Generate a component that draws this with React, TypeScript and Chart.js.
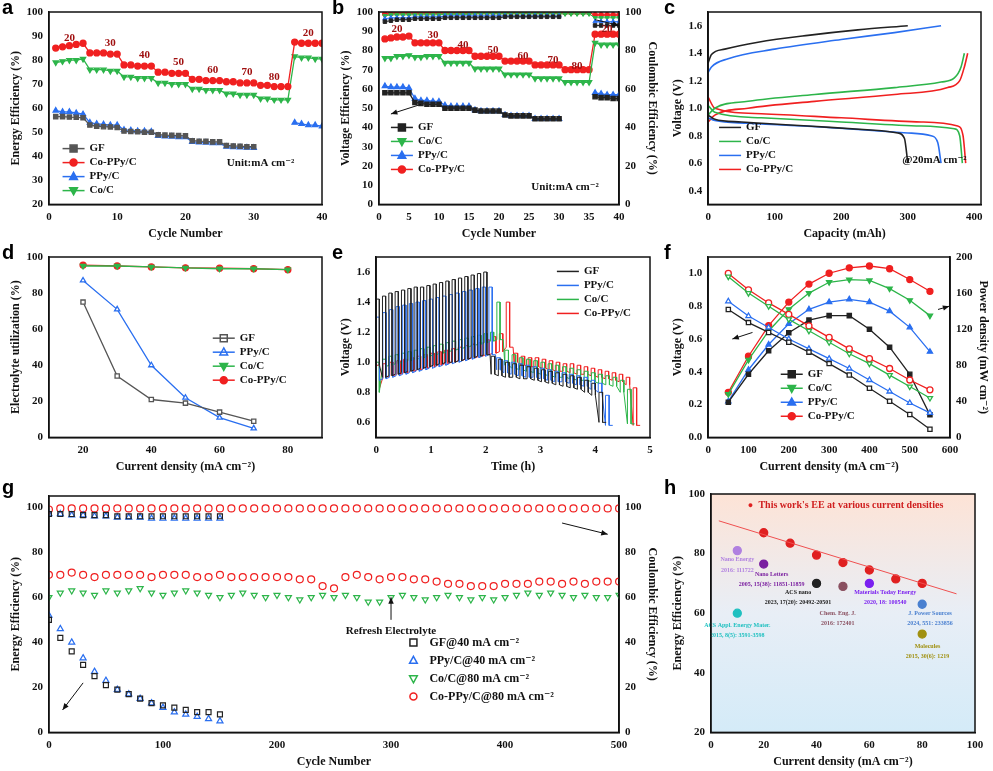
import React, { useEffect, useRef } from "react";
import Chart from "chart.js/auto";

const SERIF = "'Liberation Serif', 'DejaVu Serif', serif";
const BLACK = "#222", RED = "#f02020", GREEN = "#2db54a", BLUE = "#2a6ff0", GRAY = "#555";

// ---------- panel a ----------
const cyc40 = Array.from({ length: 40 }, (_, i) => i + 1);
const N5 = [null, null, null, null, null];
const aGF = [56.5,56.5,56.3,56.2,56,53,52.5,52.3,52.2,52,50.5,50.3,50.2,50,50,49,48.8,48.7,48.6,48.5,46.5,46.3,46.2,46,46,44.5,44.3,44.2,44,44,...N5,...N5];
const aPPy = [59,58.5,58.5,58,57.5,54,53.5,53.3,53,53,51,50.8,50.5,50.5,50.3,48.5,48.3,48.2,48,48,46,45.8,45.7,45.5,45.5,44,43.8,43.7,43.6,43.5,...N5,54,53.5,53,53,52.5];
const aCPC = [85,85.5,86,86.5,87,83,83,83,82.5,82.5,78,78,77.5,77.5,77.5,75,75,74.5,74.5,74.5,72,72,71.5,71.5,71.5,71,71,70.5,70.5,70.5,69.5,69.5,69,69,69,87.5,87,87,87,87];
const aCoC = [79,79.5,80,80,80.5,76,76,76,75.5,75.5,73,73,72.5,72.5,72.5,70.5,70.5,70,70,70,68,68,67.5,67.5,67.5,66,66,65.5,65.5,65.5,64,64,63.5,63.5,63.5,81.5,81,81,80.5,80.5];
const rateLabels = ["20","30","40","50","60","70","80","20"];
const aLabelX = [3,9,14,19,24,29,33,38];
const aLabelY = [89,87,82,79,76,75,73,91];

// ---------- panel b ----------
const bGF = [58,58,58,58,58,53,52.5,52,52,52,50,50,50,50,50,49,48.5,48.5,48.5,48.5,46.5,46,46,46,46,44.5,44.5,44.5,44.5,44.5,...N5,56,55.5,55.5,55,55];
const bPPy = [61.5,61,61,61,60.5,55,54,54,53.5,53.5,51.5,51,51,51,51,49,48.5,48.5,48.5,48.5,46.5,46,46,46,46,44.5,44.5,44.5,44.5,44.5,...N5,58,57.5,57,57,57];
const bCoC = [76,76,77,77,77.5,76.5,76.5,77,77,77,73.5,73.5,73.5,73.5,73.5,70.5,70.5,70.5,70.5,70.5,67.5,67.5,67.5,67.5,67.5,65.5,65.5,65.5,65.5,65.5,63.5,63.5,63.5,63.5,63.5,84,83,83,83,83];
const bCPC = [86,86.5,87,87,87.5,84,84,84,84,84,80,80,80,80,80,77,77,77,77,77,74.5,74.5,74.5,74.5,74.5,72.5,72.5,72.5,72.5,72.5,70,70,70,70,70,88.5,88.5,88.5,88.5,88.5];
const ceGF = [95,95.5,96,96,96,96.5,96.5,96.5,96.5,96.5,97,97,97,97,97,97,97,97,97,97,97.5,97.5,97.5,97.5,97.5,97.5,97.5,97.5,97.5,97.5,...N5,93,93,93,93,93];
const cePPy = [96.5,97,97,97,97,97.5,97.5,97.5,97.5,97.5,98,98,98,98,98,98,98,98,98,98,98,98,98,98,98,98,98,98,98,98,...N5,95,95,95,95,95];
const ceCoC = [98,98.5,98.5,98.5,98.5,98.5,98.5,98.5,98.5,98.5,98.8,98.8,98.8,98.8,98.8,99,99,99,99,99,99,99,99,99,99,99,99,99,99,99,99,99,99,99,99,97,97,97,97,97];
const ceCPC = [99,99.3,99.5,99.5,99.5,99.5,99.5,99.5,99.5,99.5,99.6,99.6,99.6,99.6,99.6,99.7,99.7,99.7,99.7,99.7,99.7,99.7,99.7,99.7,99.7,99.7,99.7,99.7,99.7,99.7,99.7,99.7,99.7,99.7,99.7,98.5,98.5,98.5,98.5,98.5];
const bLabelY = [91,88,83,80,77,75,72,91];

// ---------- panel c ----------
const cTicksX = [0,100,200,300,400];
const cTicksY = [0.4,0.6,0.8,1.0,1.2,1.4,1.6];
const cGFch = [[0,1.33],[5,1.39],[25,1.43],[75,1.48],[150,1.53],[225,1.57],[300,1.6]];
const cGFdis = [[0,0.95],[10,0.92],[50,0.9],[150,0.87],[250,0.84],[285,0.82],[295,0.78],[300,0.6]];
const cPPych = [[0,1.26],[5,1.3],[30,1.36],[100,1.43],[200,1.5],[280,1.55],[350,1.6]];
const cPPydis = [[0,0.93],[10,0.91],[60,0.89],[180,0.86],[300,0.82],[335,0.8],[345,0.75],[350,0.6]];
const cCoCch = [[0,0.95],[10,1.0],[60,1.05],[160,1.1],[280,1.15],[350,1.19],[370,1.22],[380,1.3],[385,1.4]];
const cCoCdis = [[0,1.02],[10,0.97],[80,0.93],[200,0.9],[320,0.87],[370,0.85],[378,0.8],[382,0.6]];
const cCPCch = [[0,0.9],[10,0.95],[60,1.0],[160,1.05],[280,1.1],[360,1.15],[378,1.2],[385,1.3],[390,1.4]];
const cCPCdis = [[0,1.08],[10,1.0],[80,0.96],[200,0.93],[320,0.9],[375,0.87],[383,0.8],[387,0.6]];

// ---------- panel d ----------
const dX = [20,30,40,50,60,70,80];
const dGF = [75,34,21,19,14,9,null];
const dPPy = [87,71,40,22,11,5,null];
const dCoC = [95,95,94.5,94,93.5,93.5,93];
const dCPC = [95.5,95,94.5,94,93.8,93.5,93];

// ---------- panel e ----------
const eTicksY = [0.6,0.8,1.0,1.2,1.4,1.6];
const eGFtop1 = [1.42,1.44,1.46,1.47,1.48,1.49,1.5,1.5,1.51,1.52,1.53,1.54,1.55,1.56,1.57,1.58,1.59,1.6];
const eGFbot1 = [0.98,0.9,0.91,0.92,0.93,0.94,0.95,0.96,0.97,0.98,0.99,1.0,1.0,1.01,1.02,1.03,1.04,1.05];
const eGFtop2 = [1.04,1.02,1.0,0.99,0.98,0.97,0.96,0.95,0.94,0.93,0.92,0.91,0.9,0.88,0.86,0.8];
const eGFbot2 = [0.92,0.91,0.9,0.9,0.89,0.89,0.88,0.87,0.86,0.85,0.84,0.83,0.82,0.8,0.78,0.6];
const ePPytop1 = [1.3,1.33,1.35,1.37,1.38,1.39,1.4,1.41,1.42,1.43,1.44,1.45,1.46,1.47,1.48,1.49,1.5,1.5];
const ePPybot1 = [0.88,0.89,0.9,0.91,0.92,0.93,0.94,0.95,0.96,0.97,0.98,0.99,1.0,1.01,1.02,1.03,1.04,1.05];
const ePPytop2 = [1.03,1.01,1.0,0.99,0.98,0.97,0.96,0.95,0.94,0.93,0.92,0.91,0.9,0.88,0.86,0.78];
const ePPybot2 = [0.95,0.93,0.92,0.91,0.9,0.9,0.89,0.88,0.87,0.87,0.86,0.85,0.84,0.82,0.8,0.58];
const eCoCtop1 = [1.0,1.02,1.04,1.05,1.06,1.07,1.08,1.09,1.1,1.11,1.12,1.13,1.14,1.15,1.16,1.17,1.18,1.19,1.2,1.4];
const eCoCbot1 = [0.8,0.97,0.98,0.99,1.0,1.01,1.02,1.03,1.04,1.05,1.06,1.07,1.08,1.09,1.1,1.11,1.12,1.13,1.14,1.15];
const eCoCtop2 = [1.08,1.05,1.03,1.02,1.01,1.0,0.99,0.98,0.97,0.96,0.95,0.94,0.93,0.92,0.91,0.9,0.88,0.82];
const eCoCbot2 = [0.98,0.96,0.95,0.94,0.93,0.92,0.91,0.9,0.9,0.89,0.88,0.88,0.87,0.86,0.85,0.84,0.8,0.59];
const eCPCtop1 = [0.98,0.99,1.0,1.01,1.02,1.03,1.04,1.05,1.06,1.07,1.08,1.09,1.1,1.11,1.12,1.13,1.15,1.17,1.19,1.4];
const eCPCbot1 = [0.83,0.9,0.91,0.92,0.93,0.94,0.95,0.96,0.97,0.98,0.99,1.0,1.01,1.02,1.03,1.04,1.05,1.06,1.07,1.1];
const eCPCtop2 = [1.06,1.04,1.03,1.03,1.02,1.01,1.0,0.99,0.99,0.98,0.97,0.96,0.95,0.94,0.93,0.92,0.9,0.83];
const eCPCbot2 = [1.0,0.98,0.97,0.97,0.96,0.95,0.94,0.94,0.93,0.92,0.92,0.91,0.9,0.89,0.88,0.87,0.85,0.58];

// ---------- panel f ----------
const fTicksY = [0,0.2,0.4,0.6,0.8,1.0];
const fX = [50,100,150,200,250,300,350,400,450,500,550];
const fVGF = [0.78,0.7,0.64,0.58,0.52,0.45,0.38,0.3,0.22,0.14,0.05];
const fVCoC = [0.98,0.88,0.8,0.72,0.65,0.58,0.51,0.45,0.38,0.31,0.24];
const fVPPy = [0.83,0.74,0.67,0.6,0.54,0.48,0.42,0.35,0.28,0.21,0.15];
const fVCPC = [1.0,0.9,0.82,0.75,0.68,0.61,0.54,0.48,0.42,0.35,0.29];
const fPGF = [39,70,96,116,130,135,135,120,100,70,25];
const fPCoC = [48,86,118,142,160,172,175,174,165,152,135];
const fPPPy = [40,75,103,126,142,150,153,150,140,122,95];
const fPCPC = [50,90,124,150,170,182,188,190,187,175,162];

// ---------- panel g ----------
const gTicksY = [0,20,40,60,80,100];
const gX150 = [0,10,20,30,40,50,60,70,80,90,100,110,120,130,140,150];
const gGF = [50,42,36,30,25,21,19,17,15,13,12,11,10,9,9,8];
const gPPy = [52,46,40,33,27,23,19,17,15,13,11,9,8,7,6,5];
const gGFce = [97,97,97,96.5,96.5,96.5,96,96,96,96,96,96,96,96,96,96];
const gPPyce = [97,97,96.5,96.5,96,96,95.5,95.5,95.5,95,95,95,95,95,95,95];
const gX500 = Array.from({ length: 51 }, (_, i) => i * 10);
const gCoC = [60,62,63,62,61,63,62,63,64,62,61,62,63,62,61,60,61,62,61,60,61,60,59,60,61,60,61,60,58,58,60,61,60,59,60,61,60,59,60,59,60,61,62,61,62,61,60,61,60,60,61];
const gCPC = [70,70,71,70,69,70,70,70,70,69,70,70,70,69,69,70,69,69,69,69,69,69,68,68,65,64,69,70,69,68,69,69,68,68,67,66,66,65,65,65,66,66,66,67,67,66,67,66,67,67,67];
const gCPCce = [99,99.5,99.5,99.5,99.5,99.5,99.5,99.5,99.5,99.5,99.5,99.5,99.5,99.5,99.5,99.5,99.5,99.5,99.5,99.5,99.5,99.5,99.5,99.5,99.5,99.5,99.5,99.5,99.5,99.5,99.5,99.5,99.5,99.5,99.5,99.5,99.5,99.5,99.5,99.5,99.5,99.5,99.5,99.5,99.5,99.5,99.5,99.5,99.5,99.5,99.5];

// ---------- panel h ----------
const hX = [20,30,40,50,60,70,80];
const hY = [87,83.5,79.5,77,74.5,71.5,70];
const hLit = [
  { x: 10, y: 81, c: "#b080e0", name: "Nano Energy", ref: "2016: 111722", lx: 10, ly: 78 },
  { x: 20, y: 76.5, c: "#7a1fa0", name: "Nano Letters", ref: "2005, 15(38): 11851-11859", lx: 23, ly: 73 },
  { x: 40, y: 70, c: "#222", name: "ACS nano", ref: "2023, 17(20): 20492-20501", lx: 33, ly: 67 },
  { x: 50, y: 69, c: "#8a5060", name: "Chem. Eng. J.", ref: "2016: 172401", lx: 48, ly: 60 },
  { x: 60, y: 70, c: "#7a20f0", name: "Materials Today Energy", ref: "2020, 18: 100540", lx: 66, ly: 67 },
  { x: 80, y: 63, c: "#4a80d0", name: "J. Power Sources", ref: "2024, 551: 233856", lx: 83, ly: 60 },
  { x: 10, y: 60, c: "#20c0c0", name: "ACS Appl. Energy Mater.", ref: "2015, 8(5): 3591-3598", lx: 10, ly: 56 },
  { x: 80, y: 53, c: "#a09010", name: "Molecules", ref: "2015, 30(6): 1219", lx: 82, ly: 49 },
];

// ---------- helpers ----------
const ptsXY = (xs: number[], ys: (number | null)[]) => xs.map((x, i) => ({ x, y: ys[i] as any }));
const pairs = (a: number[][]) => a.map(([x, y]) => ({ x, y }));
function squareWave(t0: number, t1: number, tops: number[], bots: number[]) {
  const out: { x: number; y: number }[] = [];
  const dt = (t1 - t0) / tops.length;
  tops.forEach((top, i) => {
    const s = t0 + i * dt;
    out.push({ x: s, y: bots[i] }, { x: s, y: top }, { x: s + dt * 0.5, y: top }, { x: s + dt * 0.5, y: bots[i] });
  });
  out.push({ x: t1, y: bots[bots.length - 1] });
  return out;
}

function drawMarker(ctx: CanvasRenderingContext2D, shape: string, x: number, y: number, r: number, color: string, fill: boolean) {
  ctx.save();
  ctx.beginPath();
  if (shape === "rect") ctx.rect(x - r, y - r, 2 * r, 2 * r);
  else if (shape === "circle") ctx.arc(x, y, r, 0, Math.PI * 2);
  else if (shape === "triangle") { ctx.moveTo(x, y - r * 1.2); ctx.lineTo(x + r * 1.1, y + r * 0.8); ctx.lineTo(x - r * 1.1, y + r * 0.8); ctx.closePath(); }
  else if (shape === "down") { ctx.moveTo(x, y + r * 1.2); ctx.lineTo(x + r * 1.1, y - r * 0.8); ctx.lineTo(x - r * 1.1, y - r * 0.8); ctx.closePath(); }
  ctx.strokeStyle = color; ctx.lineWidth = 1.5;
  if (fill) { ctx.fillStyle = color; ctx.fill(); }
  ctx.stroke();
  ctx.restore();
}

function makePlugin(ex: any) {
  return {
    id: "custom",
    beforeDraw(chart: any) {
      if (!ex.bg) return;
      const { ctx, chartArea: a } = chart;
      const g = ctx.createLinearGradient(0, a.top, 0, a.bottom);
      g.addColorStop(0, "#fde3d6"); g.addColorStop(0.5, "#e8eef6"); g.addColorStop(1, "#d4ebf8");
      ctx.save(); ctx.fillStyle = g; ctx.fillRect(a.left, a.top, a.right - a.left, a.bottom - a.top); ctx.restore();
    },
    afterDatasetsDraw(chart: any) {
      const ctx = chart.ctx;
      (ex.notes || []).forEach((n: any) => {
        const xs = chart.scales[n.xAxis || "x"], ys = chart.scales[n.yAxis || "y"];
        const x = xs.getPixelForValue(n.x), y = ys.getPixelForValue(n.y);
        ctx.save();
        ctx.font = n.font || `bold 11px ${SERIF}`;
        ctx.fillStyle = n.color || "#111";
        ctx.textAlign = n.align || "center"; ctx.textBaseline = "middle";
        ctx.fillText(n.text, x, y);
        ctx.restore();
      });
      (ex.arrows || []).forEach((ar: any) => {
        const xs = chart.scales.x, ys = chart.scales[ar.yAxis || "y"];
        const x1 = xs.getPixelForValue(ar.x1), y1 = ys.getPixelForValue(ar.y1);
        const x2 = xs.getPixelForValue(ar.x2), y2 = ys.getPixelForValue(ar.y2);
        ctx.save(); ctx.strokeStyle = "#111"; ctx.fillStyle = "#111"; ctx.lineWidth = 1;
        ctx.beginPath(); ctx.moveTo(x1, y1); ctx.lineTo(x2, y2); ctx.stroke();
        const ang = Math.atan2(y2 - y1, x2 - x1);
        ctx.beginPath(); ctx.moveTo(x2, y2);
        ctx.lineTo(x2 - 7 * Math.cos(ang - 0.4), y2 - 7 * Math.sin(ang - 0.4));
        ctx.lineTo(x2 - 7 * Math.cos(ang + 0.4), y2 - 7 * Math.sin(ang + 0.4));
        ctx.closePath(); ctx.fill(); ctx.restore();
      });
      const lg = ex.legend;
      if (lg) {
        const a = chart.chartArea;
        const x = a.left + (a.right - a.left) * lg.x;
        let y = a.top + (a.bottom - a.top) * lg.y;
        lg.items.forEach((it: any) => {
          ctx.save();
          if (it.line !== false) {
            ctx.strokeStyle = it.color; ctx.lineWidth = 1.5;
            ctx.beginPath(); ctx.moveTo(x, y); ctx.lineTo(x + 22, y); ctx.stroke();
          }
          if (it.shape) drawMarker(ctx, it.shape, x + 11, y, it.r || 3.5, it.color, it.fill !== false);
          ctx.font = `bold ${lg.size || 11}px ${SERIF}`; ctx.fillStyle = "#111";
          ctx.textBaseline = "middle"; ctx.textAlign = "left";
          ctx.fillText(it.label, x + 27, y);
          ctx.restore();
          y += lg.gap || 14;
        });
      }
    },
    afterDraw(chart: any) {
      const { ctx, chartArea: a } = chart;
      ctx.save(); ctx.strokeStyle = "#111"; ctx.lineWidth = 1.5;
      ctx.strokeRect(a.left, a.top, a.right - a.left, a.bottom - a.top); ctx.restore();
    },
  };
}

function axis(min: number, max: number, step: number, title: string, extra: any = {}) {
  const cfg: any = {
    type: "linear", min, max,
    ticks: { stepSize: step, color: "#111", font: { family: SERIF, weight: "bold", size: 11 }, padding: 2, ...(extra.ticks || {}) },
    grid: { display: false, drawTicks: true, tickLength: 4, tickColor: "#111" },
    border: { color: "#111", width: 1.5 },
    title: { display: !!title, text: title, color: "#111", font: { family: SERIF, weight: "bold", size: 12 }, padding: 1 },
    ...(extra.rest || {}),
  };
  if (extra.list) {
    const list: number[] = extra.list;
    cfg.afterBuildTicks = (s: any) => { s.ticks = list.map((v) => ({ value: v })); };
  }
  return cfg;
}

function ds(label: string, data: any[], color: string, shape: string | false, extra: any = {}) {
  const rot = shape === "down" ? 180 : 0;
  const ps = shape === "down" ? "triangle" : shape;
  return {
    label, data, borderColor: color, backgroundColor: color, borderWidth: 1.3,
    pointStyle: ps || "circle", pointRadius: shape ? 3 : 0, pointRotation: rot,
    pointBorderColor: color, pointBackgroundColor: color, showLine: true, tension: 0, spanGaps: false,
    ...extra,
  };
}

function Panel({ left, top, w, h, letter, config }: any) {
  const ref = useRef<HTMLCanvasElement>(null);
  useEffect(() => {
    const cfg = config();
    const c = new Chart(ref.current!, {
      type: cfg.type,
      data: cfg.data,
      options: {
        animation: false, responsive: false, maintainAspectRatio: false,
        ...cfg.options,
        plugins: { legend: { display: false }, tooltip: { enabled: false } },
      },
      plugins: [makePlugin(cfg.extra || {})],
    } as any);
    return () => c.destroy();
  }, []);
  return (
    <div style={{ position: "absolute", left, top, width: w, height: h }}>
      <canvas ref={ref} width={w} height={h} style={{ width: w, height: h, display: "block" }} />
      <div style={{ position: "absolute", left: 2, top: -4, fontFamily: "Arial, sans-serif", fontWeight: "bold", fontSize: 20 }}>{letter}</div>
    </div>
  );
}

const fix1 = (v: number) => v.toFixed(1);

const cfgA = () => ({
  type: "scatter",
  data: { datasets: [
    ds("GF", ptsXY(cyc40, aGF), GRAY, "rect"),
    ds("Co-PPy/C", ptsXY(cyc40, aCPC), RED, "circle"),
    ds("PPy/C", ptsXY(cyc40, aPPy), BLUE, "triangle"),
    ds("Co/C", ptsXY(cyc40, aCoC), GREEN, "down"),
  ] },
  options: {
    layout: { padding: { top: 12, right: 8, left: 8 } },
    scales: { x: axis(0, 40, 10, "Cycle Number"), y: axis(20, 100, 10, "Energy Efficiency (%)") },
  },
  extra: {
    notes: [...rateLabels.map((t, i) => ({ x: aLabelX[i], y: aLabelY[i], text: t, color: "#a01010" })),
      { x: 31, y: 37, text: "Unit:mA cm⁻²" }],
    legend: { x: 0.05, y: 0.71, items: [
      { label: "GF", color: GRAY, shape: "rect" }, { label: "Co-PPy/C", color: RED, shape: "circle" },
      { label: "PPy/C", color: BLUE, shape: "triangle" }, { label: "Co/C", color: GREEN, shape: "down" }] },
  },
});

const cfgB = () => ({
  type: "scatter",
  data: { datasets: [
    ds("GF", ptsXY(cyc40, bGF), BLACK, "rect"),
    ds("Co/C", ptsXY(cyc40, bCoC), GREEN, "down"),
    ds("PPy/C", ptsXY(cyc40, bPPy), BLUE, "triangle"),
    ds("Co-PPy/C", ptsXY(cyc40, bCPC), RED, "circle"),
    ds("ceGF", ptsXY(cyc40, ceGF), BLACK, "rect", { yAxisID: "y2", pointRadius: 2.5, borderWidth: 1 }),
    ds("cePPy", ptsXY(cyc40, cePPy), BLUE, "triangle", { yAxisID: "y2", pointRadius: 2.5, borderWidth: 1 }),
    ds("ceCoC", ptsXY(cyc40, ceCoC), GREEN, "down", { yAxisID: "y2", pointRadius: 2.5, borderWidth: 1 }),
    ds("ceCPC", ptsXY(cyc40, ceCPC), RED, "circle", { yAxisID: "y2", pointRadius: 2.5, borderWidth: 1 }),
  ] },
  options: {
    layout: { padding: { top: 12, right: 2, left: 8 } },
    scales: {
      x: axis(0, 40, 5, "Cycle Number"),
      y: axis(0, 100, 10, "Voltage Efficiency (%)"),
      y2: axis(0, 100, 20, "Coulombic Efficiency (%)", { rest: { position: "right" } }),
    },
  },
  extra: {
    notes: [...rateLabels.map((t, i) => ({ x: aLabelX[i], y: bLabelY[i], text: t, color: "#a01010" })),
      { x: 31, y: 9, text: "Unit:mA cm⁻²" }],
    arrows: [{ x1: 7, y1: 52, x2: 2, y2: 47 }, { x1: 36, y1: 96, x2: 40, y2: 93 }],
    legend: { x: 0.05, y: 0.6, items: [
      { label: "GF", color: BLACK, shape: "rect" }, { label: "Co/C", color: GREEN, shape: "down" },
      { label: "PPy/C", color: BLUE, shape: "triangle" }, { label: "Co-PPy/C", color: RED, shape: "circle" }] },
  },
});

const cfgC = () => ({
  type: "scatter",
  data: { datasets: [
    ds("a", pairs(cGFch), BLACK, false, { borderWidth: 1.6 }), ds("b", pairs(cGFdis), BLACK, false, { borderWidth: 1.6 }),
    ds("c", pairs(cCoCch), GREEN, false, { borderWidth: 1.6 }), ds("d", pairs(cCoCdis), GREEN, false, { borderWidth: 1.6 }),
    ds("e", pairs(cPPych), BLUE, false, { borderWidth: 1.6 }), ds("f", pairs(cPPydis), BLUE, false, { borderWidth: 1.6 }),
    ds("g", pairs(cCPCch), RED, false, { borderWidth: 1.6 }), ds("h", pairs(cCPCdis), RED, false, { borderWidth: 1.6 }),
  ] },
  options: {
    layout: { padding: { top: 12, right: 12, left: 8 } },
    elements: { line: { cubicInterpolationMode: "monotone" } },
    scales: {
      x: axis(0, 410, 100, "Capacity (mAh)", { list: cTicksX }),
      y: axis(0.3, 1.7, 0.2, "Voltage (V)", { list: cTicksY, ticks: { callback: fix1 } }),
    },
  },
  extra: {
    notes: [{ x: 340, y: 0.62, text: "@20mA cm⁻²" }],
    legend: { x: 0.04, y: 0.6, items: [
      { label: "GF", color: BLACK }, { label: "Co/C", color: GREEN }, { label: "PPy/C", color: BLUE }, { label: "Co-PPy/C", color: RED }] },
  },
});

const cfgD = () => ({
  type: "scatter",
  data: { datasets: [
    ds("GF", ptsXY(dX, dGF), GRAY, "rect", { pointBackgroundColor: "#fff" }),
    ds("PPy/C", ptsXY(dX, dPPy), BLUE, "triangle", { pointBackgroundColor: "#fff" }),
    ds("Co/C", ptsXY(dX, dCoC), GREEN, "down"),
    ds("Co-PPy/C", ptsXY(dX, dCPC), RED, "circle"),
  ] },
  options: {
    layout: { padding: { top: 12, right: 8, left: 8 } },
    scales: { x: axis(10, 90, 10, "Current density (mA cm⁻²)", { list: [20, 40, 60, 80] }), y: axis(0, 100, 20, "Electrolyte utilization (%)") },
  },
  extra: {
    legend: { x: 0.6, y: 0.45, items: [
      { label: "GF", color: GRAY, shape: "rect", fill: false }, { label: "PPy/C", color: BLUE, shape: "triangle", fill: false },
      { label: "Co/C", color: GREEN, shape: "down" }, { label: "Co-PPy/C", color: RED, shape: "circle" }] },
  },
});

const cfgE = () => ({
  type: "scatter",
  data: { datasets: [
    ds("GF", [...squareWave(0, 2.08, eGFtop1, eGFbot1), ...squareWave(2.1, 4.2, eGFtop2, eGFbot2)], BLACK, false, { borderWidth: 1 }),
    ds("PPy", [...squareWave(0, 2.18, ePPytop1, ePPybot1), ...squareWave(2.2, 4.32, ePPytop2, ePPybot2)], BLUE, false, { borderWidth: 1 }),
    ds("CoC", [...squareWave(0, 2.32, eCoCtop1, eCoCbot1), ...squareWave(2.35, 4.72, eCoCtop2, eCoCbot2)], GREEN, false, { borderWidth: 1 }),
    ds("CPC", [...squareWave(0, 2.5, eCPCtop1, eCPCbot1), ...squareWave(2.52, 4.82, eCPCtop2, eCPCbot2)], RED, false, { borderWidth: 1 }),
  ] },
  options: {
    layout: { padding: { top: 12, right: 12, left: 8 } },
    scales: { x: axis(0, 5, 1, "Time (h)"), y: axis(0.5, 1.7, 0.2, "Voltage (V)", { list: eTicksY, ticks: { callback: fix1 } }) },
  },
  extra: {
    legend: { x: 0.66, y: 0.08, items: [
      { label: "GF", color: BLACK }, { label: "PPy/C", color: BLUE }, { label: "Co/C", color: GREEN }, { label: "Co-PPy/C", color: RED }] },
  },
});

const cfgF = () => ({
  type: "scatter",
  data: { datasets: [
    ds("GF", ptsXY(fX, fVGF), BLACK, "rect", { pointBackgroundColor: "#fff" }),
    ds("Co/C", ptsXY(fX, fVCoC), GREEN, "down", { pointBackgroundColor: "#fff" }),
    ds("PPy/C", ptsXY(fX, fVPPy), BLUE, "triangle", { pointBackgroundColor: "#fff" }),
    ds("Co-PPy/C", ptsXY(fX, fVCPC), RED, "circle", { pointBackgroundColor: "#fff" }),
    ds("pGF", ptsXY(fX, fPGF), BLACK, "rect", { yAxisID: "y2" }),
    ds("pCoC", ptsXY(fX, fPCoC), GREEN, "down", { yAxisID: "y2" }),
    ds("pPPy", ptsXY(fX, fPPPy), BLUE, "triangle", { yAxisID: "y2" }),
    ds("pCPC", ptsXY(fX, fPCPC), RED, "circle", { yAxisID: "y2" }),
  ] },
  options: {
    layout: { padding: { top: 12, right: 2, left: 8 } },
    scales: {
      x: axis(0, 600, 100, "Current density (mA cm⁻²)"),
      y: axis(0, 1.1, 0.2, "Voltage (V)", { list: fTicksY, ticks: { callback: fix1 } }),
      y2: axis(0, 200, 40, "Power density (mW cm⁻²)", { rest: { position: "right" } }),
    },
  },
  extra: {
    arrows: [{ x1: 110, y1: 0.64, x2: 60, y2: 0.6 }, { x1: 570, y1: 0.78, x2: 598, y2: 0.8 }],
    legend: { x: 0.3, y: 0.65, items: [
      { label: "GF", color: BLACK, shape: "rect" }, { label: "Co/C", color: GREEN, shape: "down" },
      { label: "PPy/C", color: BLUE, shape: "triangle" }, { label: "Co-PPy/C", color: RED, shape: "circle" }] },
  },
});

const open = { pointBackgroundColor: "rgba(0,0,0,0)", showLine: false, pointRadius: 3.5, borderWidth: 1.2 };
const cfgG = () => ({
  type: "scatter",
  data: { datasets: [
    ds("GF", ptsXY(gX150, gGF), BLACK, "rect", open),
    ds("PPy", ptsXY(gX150, gPPy), BLUE, "triangle", open),
    ds("CoC", ptsXY(gX500, gCoC), GREEN, "down", open),
    ds("CPC", ptsXY(gX500, gCPC), RED, "circle", open),
    ds("ceGF", ptsXY(gX150, gGFce), BLACK, "rect", { ...open, yAxisID: "y2" }),
    ds("cePPy", ptsXY(gX150, gPPyce), BLUE, "triangle", { ...open, yAxisID: "y2" }),
    ds("ceCPC", ptsXY(gX500, gCPCce), RED, "circle", { ...open, yAxisID: "y2" }),
  ] },
  options: {
    layout: { padding: { top: 16, right: 2, left: 8 } },
    scales: {
      x: axis(0, 500, 100, "Cycle Number"),
      y: axis(0, 105, 20, "Energy Efficiency (%)", { list: gTicksY }),
      y2: axis(0, 105, 20, "Coulombic Efficiency (%)", { list: gTicksY, rest: { position: "right" } }),
    },
  },
  extra: {
    notes: [{ x: 300, y: 45, text: "Refresh Electrolyte" }],
    arrows: [{ x1: 300, y1: 50, x2: 300, y2: 60 }, { x1: 30, y1: 22, x2: 12, y2: 10 }, { x1: 450, y1: 93, x2: 490, y2: 88 }],
    legend: { x: 0.62, y: 0.62, gap: 18, size: 12, items: [
      { label: "GF@40 mA cm⁻²", color: BLACK, shape: "rect", fill: false, line: false },
      { label: "PPy/C@40 mA cm⁻²", color: BLUE, shape: "triangle", fill: false, line: false },
      { label: "Co/C@80 mA cm⁻²", color: GREEN, shape: "down", fill: false, line: false },
      { label: "Co-PPy/C@80 mA cm⁻²", color: RED, shape: "circle", fill: false, line: false }] },
  },
});

const cfgH = () => ({
  type: "scatter",
  data: { datasets: [
    ds("fit", [{ x: 3, y: 91 }, { x: 93, y: 66.5 }], "#f05050", false, { borderWidth: 1 }),
    ds("this", ptsXY(hX, hY), "#e02020", "circle", { showLine: false, pointRadius: 4 }),
    ...hLit.map((p) => ds(p.name, [{ x: p.x, y: p.y }], p.c, "circle", { showLine: false, pointRadius: 4 })),
  ] },
  options: {
    layout: { padding: { top: 14, right: 18, left: 8 } },
    scales: { x: axis(0, 100, 20, "Current density (mA cm⁻²)"), y: axis(20, 100, 20, "Energy Efficiency (%)") },
  },
  extra: {
    bg: true,
    notes: [
      { x: 18, y: 96, text: "This work's EE at various current densities", color: "#d02020", align: "left", font: `bold 10px ${SERIF}` },
      ...hLit.flatMap((p) => [
        { x: p.lx, y: p.ly, text: p.name, color: p.c, font: `bold 6px ${SERIF}` },
        { x: p.lx, y: p.ly - 3.5, text: p.ref, color: p.c, font: `bold 6px ${SERIF}` },
      ]),
      { x: 15, y: 96, text: "●", color: "#e02020", font: `9px ${SERIF}` },
    ],
  },
});

export default function App() {
  return (
    <div style={{ position: "absolute", left: 0, top: 0, width: 993, height: 771, background: "#fff" }}>
      <Panel left={0} top={0} w={330} h={242} letter="a" config={cfgA} />
      <Panel left={330} top={0} w={332} h={242} letter="b" config={cfgB} />
      <Panel left={662} top={0} w={331} h={242} letter="c" config={cfgC} />
      <Panel left={0} top={245} w={330} h={230} letter="d" config={cfgD} />
      <Panel left={330} top={245} w={332} h={230} letter="e" config={cfgE} />
      <Panel left={662} top={245} w={331} h={230} letter="f" config={cfgF} />
      <Panel left={0} top={480} w={662} h={290} letter="g" config={cfgG} />
      <Panel left={662} top={480} w={331} h={290} letter="h" config={cfgH} />
    </div>
  );
}
